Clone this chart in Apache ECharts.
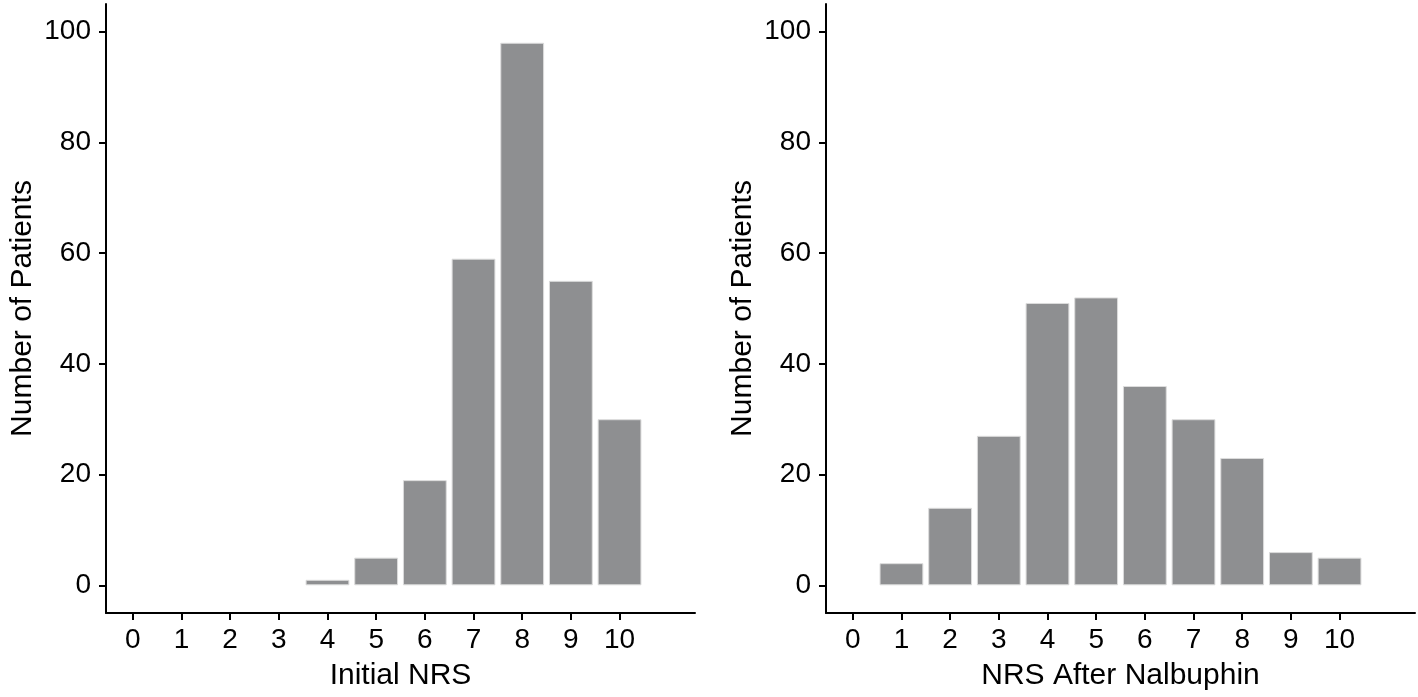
<!DOCTYPE html>
<html>
<head>
<meta charset="utf-8">
<script src="https://cdn.jsdelivr.net/npm/echarts@6/dist/echarts.min.js"></script>
<style>
html,body{margin:0;padding:0;background:#fff;}
#chart{width:1418px;height:697px;}
</style>
</head>
<body>
<div id="chart"></div>
<script>
// ---- data ----
const nrsScores = [0, 1, 2, 3, 4, 5, 6, 7, 8, 9, 10];
const initialCounts = [0, 0, 0, 0, 1, 5, 19, 59, 98, 55, 30];
const afterCounts = [0, 4, 14, 27, 51, 52, 36, 30, 23, 6, 5];
const yTicks = [0, 20, 40, 60, 80, 100];
const leftXTitle = 'Initial NRS';
const rightXTitle = 'NRS After Nalbuphin';
const yTitle = 'Number of Patients';

// ---- layout ----
const xMin = -0.55, xMax = 11.55, yMin = -5, yMax = 105;
const gridW = 589, gridH = 609, gridTop = 4;
const barW = 0.9 * gridW / (xMax - xMin);
const font = "'Liberation Sans', Arial, Helvetica, sans-serif";
const txt = '#000';
const barColor = '#8e8f91';

function pairs(counts) {
  const out = [];
  nrsScores.forEach((s, i) => { if (counts[i] > 0) out.push([s, counts[i]]); });
  return out;
}

function xAxis(idx, title) {
  return {
    type: 'value', gridIndex: idx, min: xMin, max: xMax,
    name: title, nameLocation: 'middle', nameGap: 48,
    nameTextStyle: { fontFamily: font, fontSize: 30, color: txt },
    axisLine: { show: true, onZero: false, lineStyle: { color: '#000', width: 2 } },
    axisTick: { show: true, length: 7, lineStyle: { color: '#000', width: 2 }, customValues: nrsScores },
    axisLabel: { fontFamily: font, fontSize: 28, color: txt, margin: 13, customValues: nrsScores },
    splitLine: { show: false }
  };
}
function yAxis(idx) {
  return {
    type: 'value', gridIndex: idx, min: yMin, max: yMax,
    name: yTitle, nameLocation: 'middle', nameGap: 68, nameRotate: 90,
    nameTextStyle: { fontFamily: font, fontSize: 30, color: txt },
    axisLine: { show: true, onZero: false, lineStyle: { color: '#000', width: 2 } },
    axisTick: { show: true, length: 7, lineStyle: { color: '#000', width: 2 }, customValues: yTicks },
    axisLabel: { fontFamily: font, fontSize: 28, color: txt, margin: 15, customValues: yTicks },
    splitLine: { show: false }
  };
}
function barSeries(idx, counts) {
  return {
    type: 'bar', xAxisIndex: idx, yAxisIndex: idx,
    data: pairs(counts), barWidth: barW,
    itemStyle: { color: barColor, borderColor: '#dcdcdc', borderWidth: 1 },
    emphasis: { disabled: true }, animation: false
  };
}

const chart = echarts.init(document.getElementById('chart'), null, { renderer: 'canvas' });
chart.setOption({
  backgroundColor: '#fff',
  animation: false,
  grid: [
    { left: 106, top: gridTop, width: gridW, height: gridH },
    { left: 826, top: gridTop, width: gridW, height: gridH }
  ],
  xAxis: [xAxis(0, leftXTitle), xAxis(1, rightXTitle)],
  yAxis: [yAxis(0), yAxis(1)],
  series: [barSeries(0, initialCounts), barSeries(1, afterCounts)]
});
</script>
</body>
</html>
